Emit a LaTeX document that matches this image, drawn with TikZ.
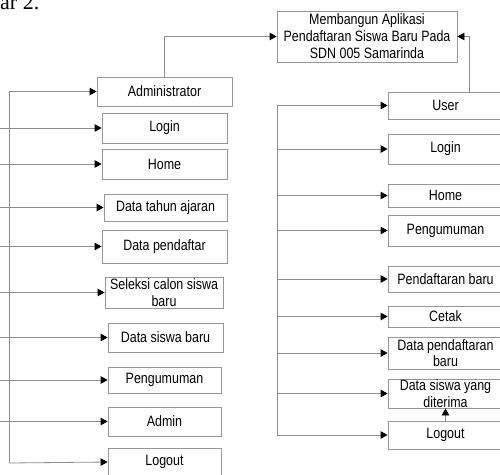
\documentclass[tikz,border=0pt]{standalone}
\usepackage{fontspec}
\setmainfont{Liberation Sans}
\newfontfamily\narrowsans[FakeStretch=0.83]{Liberation Sans}
\newfontfamily\capserif{Liberation Serif}
\usetikzlibrary{arrows.meta}
\definecolor{ln}{RGB}{140,140,140}
\definecolor{bx}{RGB}{150,150,150}
\begin{document}
\begin{tikzpicture}[x=1pt,y=-1pt,
  box/.style={draw=bx,line width=0.8pt,rectangle,inner sep=0pt,align=center,
    font=\narrowsans\fontsize{15}{17}\selectfont},
  conn/.style={draw=ln,line width=0.8pt,-{Triangle[length=7pt,width=7.5pt,color=black,fill=black]}},
  bus/.style={draw=ln,line width=0.8pt}]
\useasboundingbox (0,0) rectangle (500,474);
% caption fragment
\node[anchor=base west,inner sep=0pt,font=\capserif\fontsize{22}{24}\selectfont] (cap) at (0,9) {ar 2.};
% title
\node[box,minimum width=180,minimum height=51,font=\narrowsans\fontsize{15}{17}\selectfont] (title) at (367,36.5)
  {Membangun Aplikasi\\Pendaftaran Siswa Baru Pada\\SDN 005 Samarinda};
% left column
\node[box,minimum width=135,minimum height=29] (adm) at (164.5,91.5) {Administrator};
\node[box,minimum width=125,minimum height=30] (llogin) at (164.5,128) {Login};
\node[box,minimum width=125,minimum height=30] (lhome) at (164.5,164) {Home};
\node[box,minimum width=123,minimum height=27] (ltahun) at (165.5,207.5) {Data tahun ajaran};
\node[box,minimum width=125,minimum height=33] (lpend) at (164.5,246.5) {Data pendaftar};
\node[box,minimum width=118,minimum height=31,font=\narrowsans\fontsize{15}{17.5}\selectfont] (lsel) at (164,292.5) {Seleksi calon siswa\\baru};
\node[box,minimum width=115,minimum height=29] (lsiswa) at (165.5,337.5) {Data siswa baru};
\node[box,minimum width=113,minimum height=26] (lpeng) at (164.5,380) {Pengumuman};
\node[box,minimum width=113,minimum height=29] (ladmin) at (164.5,421.5) {Admin};
\node[box,minimum width=113,minimum height=28] (llogout) at (164.5,462) {Logout};
% right column
\node[box,minimum width=115,minimum height=27] (user) at (445.5,105.5) {User};
\node[box,minimum width=115,minimum height=30] (rlogin) at (445.5,149) {Login};
\node[box,minimum width=115,minimum height=23] (rhome) at (445.5,195.5) {Home};
\node[box,minimum width=115,minimum height=31] (rpeng) at (445.5,230.5) {Pengumuman};
\node[box,minimum width=115,minimum height=26] (rpendb) at (445.5,279) {Pendaftaran baru};
\node[box,minimum width=115,minimum height=21] (rcetak) at (445.5,316.5) {Cetak};
\node[box,minimum width=115,minimum height=32,font=\narrowsans\fontsize{15}{16.5}\selectfont] (rdpb) at (445.5,353) {Data pendaftaran\\baru};
\node[box,minimum width=115,minimum height=29,font=\narrowsans\fontsize{15}{17}\selectfont] (rdsy) at (445.5,393.5) {Data siswa yang\\diterima};
\node[box,minimum width=115,minimum height=28] (rlogout) at (445.5,435) {Logout};
% connections to title
\draw[conn] (adm.north) |- (title.west);
\coordinate (ut) at (469,92);
\draw[conn] (ut) |- (title.east);
% left bus
\coordinate (lb1) at (9,91.5);
\coordinate (lb2) at (9,463);
\draw[bus] (lb1) -- (lb2);
\draw[conn] (lb1) -- (adm);
\coordinate (l1) at (0,128);
\coordinate (l2) at (0,164);
\coordinate (l3) at (0,207.5);
\coordinate (l4) at (0,246.5);
\coordinate (l5) at (0,292.5);
\coordinate (l6) at (0,337.5);
\coordinate (l7) at (0,380);
\coordinate (l8) at (0,421.5);
\draw[conn] (l1) -- (llogin);
\draw[conn] (l2) -- (lhome);
\draw[conn] (l3) -- (ltahun);
\draw[conn] (l4) -- (lpend);
\draw[conn] (l5) -- (lsel);
\draw[conn] (l6) -- (lsiswa);
\draw[conn] (l7) -- (lpeng);
\draw[conn] (l8) -- (ladmin);
\draw[conn] (lb2) -- (llogout.west);
% right bus
\coordinate (rb1) at (277,105.5);
\coordinate (rb2) at (277,435);
\draw[bus] (rb1) -- (rb2);
\draw[conn] (rb1) -- (user);
\draw[conn] (rb1 |- rlogin) -- (rlogin);
\draw[conn] (rb1 |- rhome) -- (rhome);
\draw[conn] (rb1 |- rpeng) -- (rpeng);
\draw[conn] (rb1 |- rpendb) -- (rpendb);
\draw[conn] (rb1 |- rcetak) -- (rcetak);
\draw[conn] (rb1 |- rdpb) -- (rdpb);
\draw[conn] (rb1 |- rdsy) -- (rdsy);
\draw[conn] (rb2) -- (rlogout);
\draw[conn] (rlogout.north) -- (rdsy.south);
\end{tikzpicture}
\end{document}
